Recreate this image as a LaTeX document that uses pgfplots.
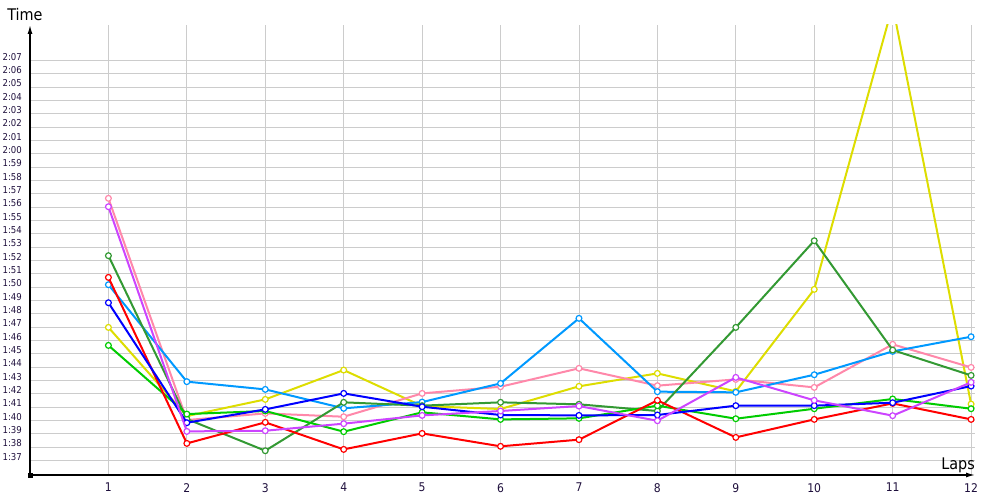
\documentclass[border=0pt]{standalone}
\usepackage{pgfplots}
\pgfplotsset{compat=1.18}
\usepackage{fontspec}
\setmainfont{DejaVu Sans Condensed}
\usetikzlibrary{arrows.meta}

\definecolor{cRed}{RGB}{255,0,0}
\definecolor{cBlue}{RGB}{0,0,255}
\definecolor{cSky}{RGB}{0,153,255}
\definecolor{cPink}{RGB}{255,136,170}
\definecolor{cPurple}{RGB}{204,68,255}
\definecolor{cYellow}{RGB}{221,221,0}
\definecolor{cGreen}{RGB}{0,204,0}
\definecolor{cDkGreen}{RGB}{51,153,51}
\definecolor{tickcol}{RGB}{30,15,60}

\pgfplotsset{
  lap/.style={line width=2pt, color=#1, mark=*, mark size=2.9pt,
    mark options={fill=white, draw=#1, line width=1.2pt}},
}

\begin{document}
\begin{tikzpicture}
\path[use as bounding box] (0,0) rectangle (1000pt,500pt);
\begin{axis}[
  at={(30pt,25pt)}, anchor=south west,
  scale only axis, width=945pt, height=450pt,
  xmin=0, xmax=12.05, ymin=95.9, ymax=129.65,
  axis x line=bottom, axis y line=left,
  axis line style={line width=1.3pt, black},
  x axis line style={-{Latex[length=9pt,width=5pt]}},
  y axis line style={-{Latex[length=9pt,width=5pt]}},
  xtick={1,2,...,12},
  ytick={97,98,...,127},
  yticklabels={1:37,1:38,1:39,1:40,1:41,1:42,1:43,1:44,1:45,1:46,1:47,1:48,1:49,1:50,1:51,1:52,1:53,1:54,1:55,1:56,1:57,1:58,1:59,2:00,2:01,2:02,2:03,2:04,2:05,2:06,2:07},
  major tick length=0pt,
  grid=major,
  major grid style={color=gray!40, line width=0.9pt},
  /pgf/number format/assume math mode=true,
  yticklabel style={font=\fontsize{9.5}{10}\selectfont, text=tickcol, anchor=east, inner sep=0pt, xshift=-8pt, yshift=3.7pt},
  xticklabel style={font=\fontsize{12}{13}\selectfont, text=tickcol, anchor=north, inner sep=0pt, yshift=-8pt},
  clip mode=individual,
]
\addplot[lap=cYellow] coordinates {(1,106.97) (2,100.32) (3,101.57) (4,103.77) (5,101.07) (6,100.85) (7,102.55) (8,103.52) (9,102.17) (10,109.82) (11,131.1) (12,101.22)};
\addplot[lap=cPink] coordinates {(1,116.65) (2,100.02) (3,100.52) (4,100.27) (5,102.02) (6,102.52) (7,103.9) (8,102.6) (9,103.07) (10,102.47) (11,105.7) (12,103.97)};
\addplot[lap=cSky] coordinates {(1,110.17) (2,102.9) (3,102.32) (4,100.9) (5,101.37) (6,102.77) (7,107.65) (8,102.15) (9,102.1) (10,103.42) (11,105.17) (12,106.27)};
\addplot[lap=cDkGreen] coordinates {(1,112.35) (2,100.1) (3,97.72) (4,101.35) (5,101.1) (6,101.35) (7,101.2) (8,100.7) (9,106.97) (10,113.47) (11,105.27) (12,103.37)};
\addplot[lap=cGreen] coordinates {(1,105.62) (2,100.47) (3,100.7) (4,99.15) (5,100.6) (6,100.07) (7,100.15) (8,101.1) (9,100.12) (10,100.87) (11,101.6) (12,100.87)};
\addplot[lap=cRed] coordinates {(1,110.72) (2,98.27) (3,99.85) (4,97.82) (5,99.02) (6,98.05) (7,98.55) (8,101.5) (9,98.72) (10,100.07) (11,101.27) (12,100.07)};
\addplot[lap=cBlue] coordinates {(1,108.82) (2,99.82) (3,100.82) (4,102.02) (5,101.02) (6,100.4) (7,100.37) (8,100.4) (9,101.1) (10,101.1) (11,101.32) (12,102.57)};
\addplot[lap=cPurple] coordinates {(1,116.02) (2,99.17) (3,99.22) (4,99.75) (5,100.37) (6,100.7) (7,101.07) (8,99.97) (9,103.22) (10,101.5) (11,100.35) (12,102.85)};
\addplot[only marks, mark=square*, mark size=2pt, black] coordinates {(0,95.9)};
\node[anchor=base, font=\fontsize{16}{18}\selectfont, inner sep=0pt] at (rel axis cs:0,1) [xshift=-5pt, yshift=4.3pt] {Time};
\node[anchor=base east, font=\fontsize{16}{18}\selectfont, inner sep=0pt] at (rel axis cs:1,0) [yshift=5pt] {Laps};
\end{axis}
\end{tikzpicture}
\end{document}
